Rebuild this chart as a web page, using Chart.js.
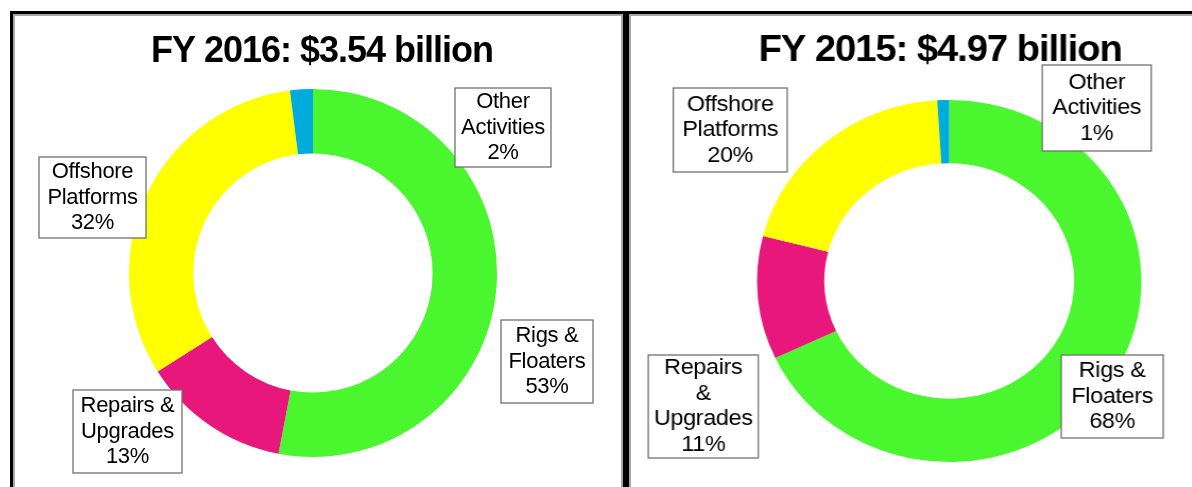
<!DOCTYPE html>
<html>
<head>
<meta charset="utf-8">
<script src="https://cdn.jsdelivr.net/npm/chart.js@4.4.1/dist/chart.umd.min.js"></script>
<style>
  html, body { margin: 0; padding: 0; background: #fff; overflow: hidden; width: 1192px; height: 487px; }
  .panel { position: absolute; top: 11px; height: 500px; box-sizing: border-box; border: 3px solid #000; box-shadow: inset 0 0 0 2px #a6a6a6; }
  #panel16 { left: 10px; width: 616px; }
  #panel15 { left: 626px; width: 620px; }
  canvas { position: absolute; top: 14px; }
  #chart16 { left: 13px; }
  /* the FY2015 picture is a little wider than tall in the original */
  #chart15 { left: 629px; transform: scaleX(1.062); transform-origin: 0 0; }
</style>
</head>
<body>
<div class="panel" id="panel16"></div>
<div class="panel" id="panel15"></div>
<canvas id="chart16" width="608" height="473"></canvas>
<canvas id="chart15" width="603" height="473"></canvas>
<script>
// data
const segments = ['Rigs & Floaters', 'Repairs & Upgrades', 'Offshore Platforms', 'Other Activities'];
const share2016 = [53, 13, 32, 2];
const share2015 = [68, 11, 20, 1];
const segmentColors = ['#4af72f', '#e8177b', '#ffff00', '#00acdc'];
const title2016 = 'FY 2016: $3.54 billion';
const title2015 = 'FY 2015: $4.97 billion';
const labelLines2016 = [['Rigs &', 'Floaters'], ['Repairs &', 'Upgrades'], ['Offshore', 'Platforms'], ['Other', 'Activities']];
const labelLines2015 = [['Rigs &', 'Floaters'], ['Repairs', '&', 'Upgrades'], ['Offshore', 'Platforms'], ['Other', 'Activities']];

const FONT = '"Liberation Sans", Arial, Helvetica, sans-serif';

// title + boxed callouts, placed relative to the doughnut centre
const calloutPlugin = {
    id: 'callouts',
    afterDraw(chart, args, opts) {
        const ctx = chart.ctx;
        const arc = chart.getDatasetMeta(0).data[0];
        const cx = arc.x, cy = arc.y;
        const values = chart.data.datasets[0].data;
        ctx.save();
        ctx.textAlign = 'center';
        ctx.textBaseline = 'middle';
        ctx.fillStyle = '#000';
        ctx.font = 'bold 36px ' + FONT;
        ctx.letterSpacing = '-1px';
        ctx.fillText(opts.title, cx + opts.titleDx, opts.titleY);

        ctx.font = '22px ' + FONT;
        ctx.letterSpacing = '-0.3px';
        opts.boxes.forEach((b, i) => {
            const lines = opts.lines[i].concat(values[i] + '%');
            const x = cx + b.dx, y = cy + b.dy;
            ctx.fillStyle = '#fff';
            ctx.fillRect(x - b.w / 2, y - b.h / 2, b.w, b.h);
            ctx.strokeStyle = '#707070';
            ctx.lineWidth = 1.3;
            ctx.strokeRect(x - b.w / 2, y - b.h / 2, b.w, b.h);
            ctx.fillStyle = '#000';
            lines.forEach((t, k) => {
                ctx.fillText(t, x, y + (k - (lines.length - 1) / 2) * opts.lineHeight);
            });
        });
        ctx.restore();
    }
};

function makeChart(id, values, callouts, padding, radius) {
    return new Chart(document.getElementById(id), {
        type: 'doughnut',
        data: {
            labels: segments,
            datasets: [{
                data: values,
                backgroundColor: segmentColors,
                borderWidth: 0,
                hoverOffset: 0
            }]
        },
        options: {
            responsive: false,
            animation: false,
            radius: radius,
            cutout: '65%',
            layout: { padding: padding },
            plugins: {
                legend: { display: false },
                tooltip: { enabled: false },
                title: { display: false },
                callouts: callouts
            }
        },
        plugins: [calloutPlugin]
    });
}

makeChart('chart16', share2016, {
    title: title2016, titleDx: 9, titleY: 38.5, lineHeight: 25.5, lines: labelLines2016,
    boxes: [
        { dx: 234, dy: 88.5, w: 92, h: 83 },
        { dx: -185.5, dy: 158.5, w: 109, h: 83 },
        { dx: -220.5, dy: -75.5, w: 107, h: 81 },
        { dx: 190, dy: -145.5, w: 96, h: 79 }
    ]
}, { left: 0, right: 8, top: 45, bottom: 0 }, 184);

makeChart('chart15', share2015, {
    title: title2015, titleDx: -8.5, titleY: 37, lineHeight: 25.5, lines: labelLines2015,
    boxes: [
        { dx: 153.5, dy: 115.5, w: 96, h: 83 },
        { dx: -231.6, dy: 125.5, w: 103.6, h: 103 },
        { dx: -206.2, dy: -151, w: 107.3, h: 84 },
        { dx: 138.9, dy: -173, w: 102.6, h: 86 }
    ]
}, { left: 0, right: 0, top: 61, bottom: 0 }, 181);
</script>
</body>
</html>
